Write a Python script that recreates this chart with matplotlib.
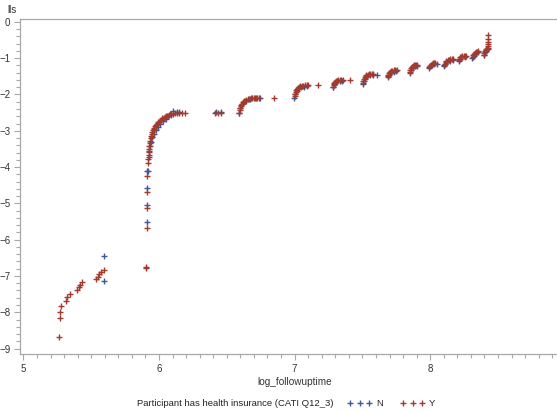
import matplotlib
matplotlib.use("Agg")
import matplotlib.pyplot as plt
from matplotlib.lines import Line2D
from matplotlib.ticker import MultipleLocator, FixedLocator

plt.rcParams["font.family"] = ["Liberation Sans", "DejaVu Sans"]

BLUE = "#445694"   # N
RED = "#A23A2E"    # Y
AXC = "#a8a8a8"

# log(-log S) against log follow-up time, group N (no insurance)
n_x = [5.592, 5.592, 5.909, 5.909, 5.914, 5.919, 5.915,
       5.925, 5.930, 5.935, 5.940, 5.950, 5.960, 5.975, 5.990, 6.010, 6.030,
       6.050, 6.070, 6.090, 6.100, 6.130, 6.150,
       6.420, 6.455,
       6.590, 6.600, 6.615, 6.640, 6.670, 6.705, 6.745,
       6.998, 7.005, 7.015, 7.030, 7.050, 7.070, 7.090,
       7.283, 7.290, 7.300, 7.315, 7.335, 7.350,
       7.503, 7.510, 7.520, 7.535, 7.555, 7.575, 7.605,
       7.686, 7.695, 7.710, 7.730, 7.750,
       7.848, 7.857, 7.870, 7.885, 7.900,
       7.990, 8.000, 8.015, 8.030, 8.050,
       8.103, 8.110, 8.125, 8.145, 8.165,
       8.210, 8.220, 8.235, 8.255,
       8.311, 8.320, 8.335, 8.352,
       8.395, 8.405, 8.415, 8.423]
n_y = [-6.45, -7.14, -5.04, -5.52, -4.58, -4.10, -4.12,
       -3.72, -3.55, -3.42, -3.30, -3.18, -3.08, -2.98, -2.90, -2.82, -2.74,
       -2.67, -2.60, -2.56, -2.46, -2.47, -2.47,
       -2.47, -2.47,
       -2.52, -2.36, -2.25, -2.17, -2.12, -2.10, -2.09,
       -2.09, -2.00, -1.90, -1.83, -1.79, -1.78, -1.77,
       -1.80, -1.74, -1.67, -1.64, -1.62, -1.62,
       -1.71, -1.63, -1.56, -1.50, -1.47, -1.46, -1.46,
       -1.52, -1.46, -1.40, -1.37, -1.36,
       -1.40, -1.33, -1.26, -1.22, -1.21,
       -1.27, -1.22, -1.18, -1.16, -1.16,
       -1.22, -1.16, -1.10, -1.07, -1.06,
       -1.08, -1.02, -0.98, -0.96,
       -0.99, -0.93, -0.87, -0.84,
       -0.92, -0.84, -0.79, -0.76]

# group Y (has insurance)
y_x = [5.265, 5.268, 5.272, 5.280, 5.314, 5.322, 5.341, 5.393, 5.408, 5.417,
       5.430, 5.535, 5.548, 5.560, 5.572, 5.594,
       5.902, 5.904, 5.909, 5.909, 5.914, 5.914, 5.919,
       5.921, 5.923, 5.925, 5.927, 5.929, 5.932, 5.935, 5.938, 5.942, 5.946,
       5.950, 5.955, 5.960, 5.966, 5.972, 5.978, 5.985, 5.992, 6.000, 6.008,
       6.016, 6.025, 6.034, 6.043, 6.052, 6.062, 6.072, 6.082, 6.092, 6.104,
       6.118, 6.135, 6.150, 6.170, 6.190,
       6.410, 6.435, 6.460,
       6.592, 6.595, 6.598, 6.602, 6.607, 6.613, 6.620, 6.628, 6.636, 6.645,
       6.655, 6.665, 6.676, 6.688, 6.700, 6.712, 6.725, 6.738, 6.848,
       7.000, 7.003, 7.007, 7.012, 7.018, 7.025, 7.033, 7.042, 7.052, 7.063,
       7.075, 7.088, 7.100, 7.175,
       7.285, 7.288, 7.292, 7.298, 7.305, 7.313, 7.322, 7.332, 7.343, 7.355,
       7.410,
       7.505, 7.508, 7.512, 7.517, 7.523, 7.530, 7.538, 7.547, 7.557, 7.568,
       7.580,
       7.688, 7.692, 7.698, 7.705, 7.713, 7.722, 7.732, 7.743, 7.755,
       7.850, 7.854, 7.859, 7.865, 7.872, 7.880, 7.889, 7.898, 7.905,
       7.993, 7.997, 8.003, 8.010, 8.018, 8.027, 8.037,
       8.105, 8.109, 8.114, 8.120, 8.128, 8.137, 8.147, 8.158, 8.168,
       8.212, 8.216, 8.222, 8.229, 8.237, 8.246, 8.256, 8.265,
       8.313, 8.317, 8.322, 8.329, 8.337, 8.346, 8.356,
       8.397, 8.400, 8.404, 8.409, 8.415, 8.421, 8.425, 8.425, 8.425, 8.425,
       8.425, 8.425]
y_y = [-8.68, -8.17, -8.00, -7.84, -7.70, -7.59, -7.49, -7.38, -7.31, -7.25,
       -7.16, -7.08, -7.02, -6.94, -6.89, -6.84,
       -6.74, -6.78, -5.13, -5.68, -4.70, -4.24, -3.89,
       -3.78, -3.68, -3.58, -3.50, -3.42, -3.34, -3.27, -3.21, -3.15, -3.09,
       -3.04, -2.99, -2.95, -2.91, -2.87, -2.83, -2.80, -2.77, -2.75, -2.72,
       -2.69, -2.66, -2.64, -2.62, -2.60, -2.58, -2.565, -2.55, -2.54, -2.53,
       -2.52, -2.51, -2.50, -2.50, -2.50,
       -2.50, -2.50, -2.50,
       -2.52, -2.44, -2.38, -2.33, -2.29, -2.25, -2.22, -2.19, -2.17, -2.15,
       -2.135, -2.12, -2.11, -2.10, -2.095, -2.09, -2.09, -2.09, -2.09,
       -2.05, -1.98, -1.93, -1.88, -1.84, -1.81, -1.79, -1.77, -1.76, -1.755,
       -1.75, -1.75, -1.75, -1.75,
       -1.78, -1.72, -1.68, -1.65, -1.63, -1.615, -1.605, -1.60, -1.60, -1.60,
       -1.60,
       -1.68, -1.62, -1.57, -1.53, -1.50, -1.47, -1.45, -1.44, -1.43, -1.43,
       -1.43,
       -1.50, -1.45, -1.41, -1.38, -1.36, -1.345, -1.335, -1.33, -1.33,
       -1.37, -1.32, -1.28, -1.25, -1.22, -1.20, -1.19, -1.185, -1.18,
       -1.25, -1.21, -1.18, -1.16, -1.145, -1.135, -1.13,
       -1.20, -1.15, -1.11, -1.08, -1.06, -1.045, -1.035, -1.03, -1.03,
       -1.06, -1.01, -0.98, -0.96, -0.945, -0.935, -0.93, -0.93,
       -0.97, -0.92, -0.88, -0.855, -0.835, -0.82, -0.81,
       -0.90, -0.85, -0.81, -0.78, -0.76, -0.74, -0.72, -0.66, -0.61, -0.55,
       -0.46, -0.37]

x_major = [5, 6, 7, 8]

fig = plt.figure(figsize=(5.57, 4.12), dpi=100)
ax = fig.add_axes([20 / 557, 1 - 354 / 412, 550 / 557, 335 / 412])

mk = dict(marker="+", ls="none", markersize=5, mew=1.0)
ax.plot(n_x, n_y, color=BLUE, **mk)
ax.plot(y_x, y_y, color=RED, **mk)

ax.set_xlim(4.975, 9.031)
ax.set_ylim(-9.15, 0.08)
ax.xaxis.set_major_locator(FixedLocator(x_major))
ax.xaxis.set_minor_locator(MultipleLocator(0.1))
ax.yaxis.set_major_locator(MultipleLocator(1))
ax.yaxis.set_minor_locator(MultipleLocator(0.2))
ax.tick_params(which="both", color=AXC, direction="out", labelsize=7,
               labelcolor="#333333", width=0.8)
ax.tick_params(which="major", length=4, pad=3)
ax.tick_params(which="minor", length=3)
for s in ["left", "bottom", "top"]:
    ax.spines[s].set_color(AXC)
    ax.spines[s].set_linewidth(0.9)
ax.spines["right"].set_visible(False)

fig.text(7 / 557, 1 - 10 / 412, "lls", fontsize=7, color="#333333",
         ha="left", va="center")
fig.text(295 / 557, 1 - 382 / 412, "log_followuptime", fontsize=7.2,
         color="#333333", ha="center", va="center")

# legend row
ly = 1 - 403 / 412
fig.text(137 / 557, ly, "Participant has health insurance (CATI Q12_3)",
         fontsize=6.8, color="#222222", ha="left", va="center")
for xs, c, lab, tx in [((350, 360, 369), BLUE, "N", 376),
                       ((403, 413, 422), RED, "Y", 429)]:
    fig.add_artist(Line2D([x / 557 for x in xs], [ly] * 3,
                          transform=fig.transFigure, color=c, **mk))
    fig.text(tx / 557, ly, lab, fontsize=6.8, color="#222222",
             ha="left", va="center")

fig.savefig("out.png", dpi=100, facecolor="white")
